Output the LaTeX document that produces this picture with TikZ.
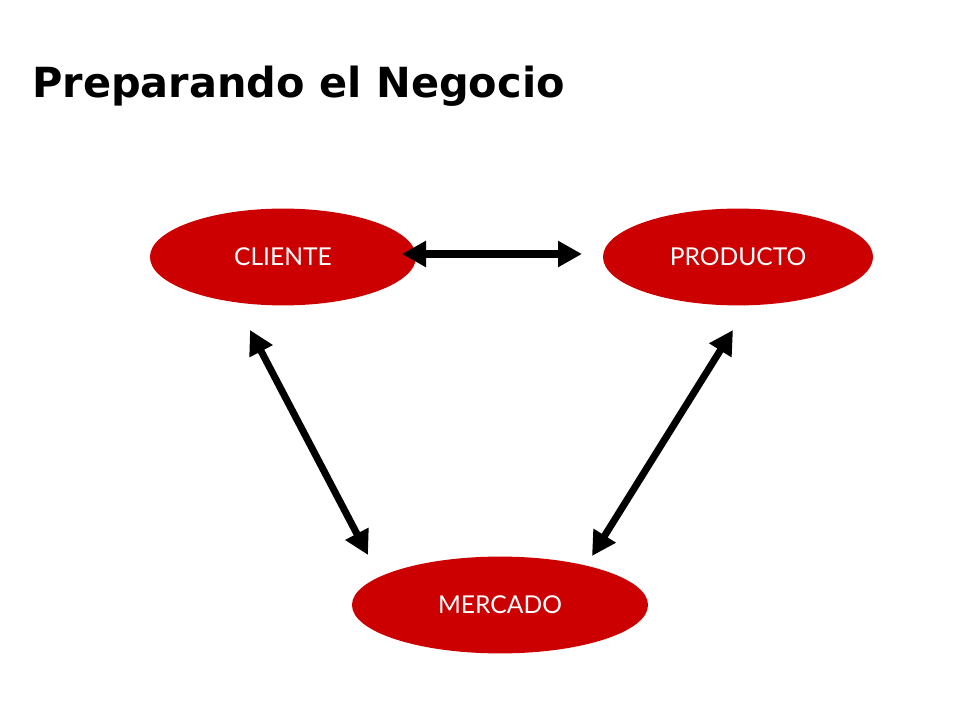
\documentclass[tikz,border=0pt]{standalone}
\usepackage{fontspec}
\setmainfont{Lato}
\newfontfamily\titlefont{DejaVu Sans}
\usetikzlibrary{arrows.meta,shapes.geometric}
\definecolor{rojo}{RGB}{204,0,0}
\tikzset{
  idea/.style={ellipse, fill=rojo, text=white, inner sep=0pt, minimum height=2.42cm, font=\fontsize{17.5}{20}\selectfont},
  flecha/.style={{Triangle[length=0.6cm,width=0.62cm]}-{Triangle[length=0.6cm,width=0.62cm]}, line width=5pt}
}
\begin{document}
\begin{tikzpicture}[x=0.025cm,y=-0.025cm]
        \useasboundingbox (0,0) rectangle (960,720);
        \node[anchor=base west, inner sep=0pt, font=\titlefont\bfseries\fontsize{29.5}{33}\selectfont] (titulo) at (32,98) {Preparando el Negocio};

        \node[idea, minimum width=6.65cm] (cliente) at (283,257) {CLIENTE};
        \node[idea, minimum width=6.75cm] (producto) at (738,257) {PRODUCTO};
        \node[idea, minimum width=7.4cm] (mercado) at (500,605) {MERCADO};

        \coordinate (C1) at (402,254);
        \coordinate (P1) at (582,254);
        \coordinate (C2) at (250,330);
        \coordinate (M1) at (368,555);
        \coordinate (P2) at (733,330);
        \coordinate (M2) at (592,556);
        \draw[flecha] (C1) -- (P1) ;
        \draw[flecha] (C2) -- (M1) ;
        \draw[flecha] (P2) -- (M2) ;
\end{tikzpicture}
\end{document}
